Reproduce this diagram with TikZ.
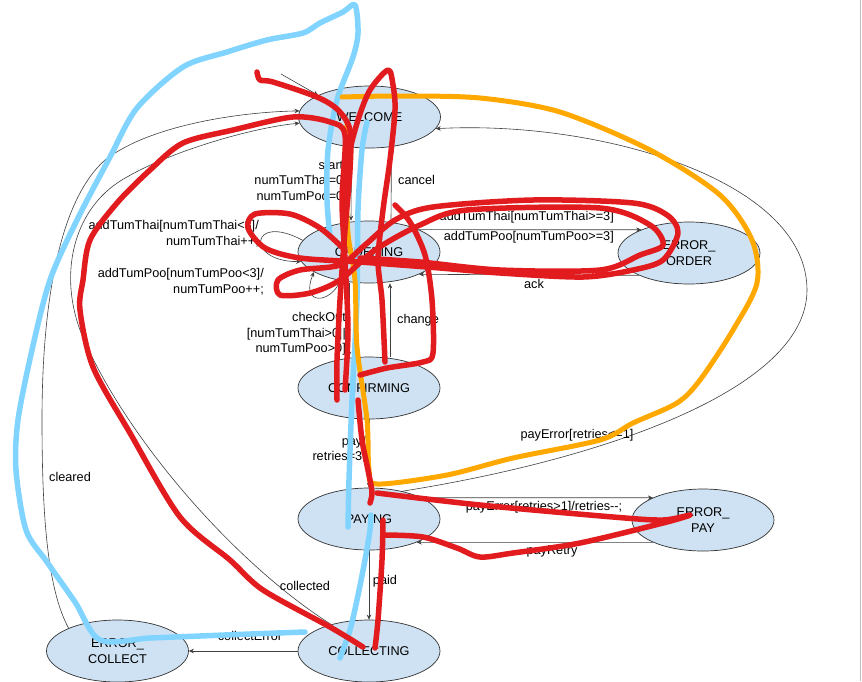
\documentclass[tikz,border=0pt]{standalone}
\usepackage{fontspec}
\setmainfont{Liberation Sans}
\usetikzlibrary{shapes.geometric,arrows.meta}
\definecolor{stfill}{HTML}{CFE2F3}
\definecolor{scrred}{HTML}{E21B1F}
\definecolor{scrblue}{HTML}{80D4FF}
\definecolor{scrorange}{HTML}{FFA800}
\begin{document}
\begin{tikzpicture}[x=1pt,y=-1pt,
  font=\fontsize{12.7}{15.5}\selectfont,
  stnode/.style={ellipse, draw=black!80, line width=0.7pt, fill=stfill,
    minimum width=142pt, minimum height=62pt, inner sep=0pt, align=center},
  tr/.style={draw=black!75, line width=0.6pt, -{Stealth[length=5pt,width=4.5pt]}},
  lbl/.style={inner sep=0pt},
  scr/.style={line width=5.5pt, line cap=round, line join=round}]
\useasboundingbox (0,0) rectangle (862,681);
\fill[white] (0,0) rectangle (862,681);
\draw[black!25, line width=1.2pt] (860.5,0) -- (860.5,681);

% states
\node[stnode] (welcome) at (369.5,117) {WELCOME};
\node[stnode] (ordering) at (369,252) {ORDERING};
\node[stnode] (errorder) at (689,253) {ERROR\_\\ORDER};
\node[stnode] (confirming) at (369,388) {CONFIRMING};
\node[stnode] (paying) at (369,519) {PAYING};
\node[stnode] (errpay) at (703,520) {ERROR\_\\PAY};
\node[stnode] (collecting) at (369,651) {COLLECTING};
\node[stnode] (errcollect) at (117.5,651) {ERROR\_\\COLLECT};

% transitions
\coordinate (init) at (281,74);
\draw[tr] (init) -- (welcome.157);
\draw[tr] ([xshift=-18pt]welcome.south) -- ([xshift=-18pt]ordering.north);
\draw[tr] ([xshift=22pt]ordering.north) -- ([xshift=22pt]welcome.south);
\draw[tr] ([xshift=-20pt]ordering.south) -- ([xshift=-20pt]confirming.north);
\draw[tr] ([xshift=21pt]confirming.north) -- ([xshift=21pt]ordering.south);
\draw[tr] (confirming.south) -- (paying.north);
\draw[tr] (paying.south) -- (collecting.north);
\draw[tr] (ordering.24) -- (errorder.154);
\draw[tr] (errorder.204) -- (ordering.-24);
\draw[tr] (paying.22) -- (errpay.156);
\draw[tr] (errpay.204) -- (paying.-26);
\draw[tr] (collecting.west) -- (errcollect.east);
\draw[tr] (ordering.170) .. controls (250,212) and (245,262) .. (ordering.188);
\draw[tr] (ordering.225) .. controls (330,305) and (300,305) .. (ordering.200);
\draw[tr] (paying.40) .. controls (600,460) and (807,390) .. (807,290)
  .. controls (807,180) and (600,120) .. (welcome.-10);
\draw[tr] (errcollect.155) .. controls (48,590) and (42,520) .. (42,420)
  .. controls (42,300) and (60,200) .. (105,160)
  .. controls (150,125) and (240,112) .. (welcome.175);
\draw[tr] (collecting.145) .. controls (230,560) and (120,430) .. (80,330)
  .. controls (58,270) and (75,205) .. (127,177)
  .. controls (170,152) and (250,128) .. (welcome.185);

% labels
\node[lbl, align=right, anchor=east] (lstart) at (347,181) {start/\\numTumThai=0;\\numTumPoo=0;};
\node[lbl, anchor=west] (lcancel) at (398,180) {cancel};
\node[lbl, align=right, anchor=east] (lthai) at (259,233.5) {addTumThai[numTumThai<3]/\\numTumThai++;};
\node[lbl, align=right, anchor=east] (lpoo) at (264,281.5) {addTumPoo[numTumPoo<3]/\\numTumPoo++;};
\node[lbl, anchor=east] (lthai3) at (614,217) {addTumThai[numTumThai>=3]};
\node[lbl, anchor=east] (lpoo3) at (614,237) {addTumPoo[numTumPoo>=3]};
\node[lbl] (lack) at (534,284) {ack};
\node[lbl, align=right, anchor=east] (lcheck) at (346,334) {checkOut\\{}[numTumThai>0||\\numTumPoo>0]};
\node[lbl, anchor=west] (lchange) at (397,320) {change};
\node[lbl, align=right, anchor=east] (lpay) at (366,449) {pay/\\retries=3;};
\node[lbl] (lpayerr1) at (577,435) {payError[retries<=1]};
\node[lbl] (lpayerr) at (544,507) {payError[retries>1]/retries-{}-;};
\node[lbl] (lretry) at (552,551) {payRetry};
\node[lbl] (lpaid) at (385,581) {paid};
\node[lbl] (lcollected) at (305,586) {collected};
\node[lbl] (lcollerr) at (250,636) {collectError};
\node[lbl] (lcleared) at (70,477) {cleared};

% scribbles: blue
\draw[scr, scrblue] plot[smooth, tension=0.5] coordinates {(330,237) (327,200) (328,150) (337,100) (353,57) (358,33) (355,5) (343,12) (320,23) (303,33) (267,40) (227,52) (183,67) (137,108) (110,157) (77,220) (50,280) (32,350) (18,420) (16,470) (26,530) (47,562) (75,602) (100,640) (150,638) (200,636) (250,634) (305,632)};
\draw[scr, scrblue] plot[smooth, tension=0.5] coordinates {(367,122) (362,150) (358,210) (357,300) (352,400) (349,480) (348,527)};
\draw[scr, scrblue] plot[smooth, tension=0.5] coordinates {(371,515) (370,530) (365,560) (357,600) (350,630) (340,658)};
% orange
\draw[scr, scrorange, line width=5pt] plot[smooth, tension=0.5] coordinates {(342,97) (400,96) (480,98) (560,112) (650,150) (720,195) (752,240) (757,283) (733,330) (700,380) (677,403) (633,423) (600,440) (513,458) (447,475) (377,484) (369,470) (367,420) (357,347) (355,280) (348,233) (345,160) (347,125)};
% red
\draw[scr, scrred] plot[smooth, tension=0.5] coordinates {(257,72) (260,80) (273,82) (317,97) (338,110) (350,130) (350,170) (345,230) (340,300) (337,360) (337,400)};
\draw[scr, scrred] plot[smooth, tension=0.5] coordinates {(363,647) (330,627) (263,590) (230,560) (180,517) (130,433) (93,367) (80,310) (83,280) (90,240) (117,203) (150,170) (183,143) (233,130) (293,117) (330,122) (345,135) (342,200) (345,260) (348,330) (345,390)};
\draw[scr, scrred] plot[smooth, tension=0.5] coordinates {(343,215) (348,160) (358,120) (370,90) (388,70) (393,85) (395,110) (390,160) (383,210) (378,260) (382,300) (385,362)};
\draw[scr, scrred] plot[smooth, tension=0.5] coordinates {(345,250) (320,228) (290,214) (255,214) (248,228) (265,248) (300,258) (360,262) (440,268) (500,273) (583,277) (633,270) (663,260) (678,233) (667,215) (633,203) (533,200) (433,207) (395,220) (365,245) (340,265) (300,270) (278,280) (280,295) (310,293) (340,280) (375,250) (420,225) (467,210) (600,208) (650,225) (663,245) (640,255) (600,270) (500,270) (420,262) (360,258)};
\draw[scr, scrred] plot[smooth, tension=0.5] coordinates {(360,375) (387,368) (423,362) (433,353) (432,300) (425,255) (410,222) (395,205)};
\draw[scr, scrred] plot[smooth, tension=0.5] coordinates {(358,400) (362,440) (368,470) (372,492) (370,503)};
\draw[scr, scrred] plot[smooth, tension=0.5] coordinates {(377,493) (480,505) (613,517) (663,520) (690,515) (663,523) (580,543) (513,553) (480,557) (457,548) (423,537) (385,535)};
\draw[scr, scrred] plot[smooth, tension=0.5] coordinates {(383,520) (382,560) (378,620) (375,648)};
\end{tikzpicture}
\end{document}
